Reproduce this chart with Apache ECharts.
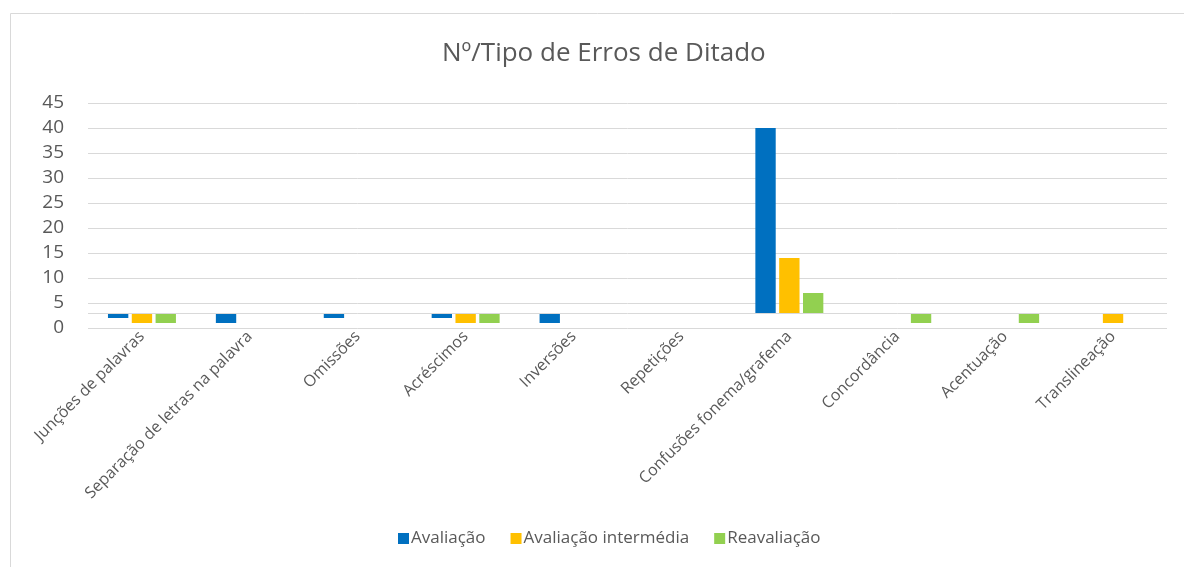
<!DOCTYPE html>
<html>
<head>
<meta charset="utf-8">
<script src="https://cdn.jsdelivr.net/npm/echarts@6/dist/echarts.min.js"></script>
<style>
html,body{margin:0;padding:0;background:#fff;}
#chart{width:1184px;height:567px;}
</style>
</head>
<body>
<div id="chart"></div>
<script>
const categories = ["Junções de palavras","Separação de letras na palavra","Omissões","Acréscimos","Inversões","Repetições","Confusões fonema/grafema","Concordância","Acentuação","Translineação"];
const seriesNames = ["Avaliação","Avaliação intermédia","Reavaliação"];
const avaliacao = [2, 1, 2, 2, 1, null, 40, null, null, null];
const avaliacaoIntermedia = [1, null, null, 1, null, null, 14, null, null, 1];
const reavaliacao = [1, null, null, 1, null, null, 7, 1, 1, null];
const colors = ["#0070C0", "#FFC000", "#92D050"];
const axisCross = 3;
const yTicks = {min: 0, max: 45, interval: 5};

const allValues = [avaliacao, avaliacaoIntermedia, reavaliacao];
const series = [];
allValues.forEach((vals, i) => {
  const stack = 's' + i;
  series.push({
    name: '_base' + i, type: 'bar', stack: stack, silent: true,
    itemStyle: {color: 'rgba(0,0,0,0)'},
    data: vals.map(v => v == null ? null : Math.min(v, axisCross)),
    barCategoryGap: '37%', barGap: '17%'
  });
  const s = {
    name: seriesNames[i], type: 'bar', stack: stack,
    itemStyle: {color: colors[i]},
    data: vals.map(v => v == null ? null : Math.abs(v - axisCross)),
    barCategoryGap: '37%', barGap: '17%'
  };
  if (i === 0) {
    s.markLine = {silent: true, symbol: 'none', label: {show: false},
      lineStyle: {color: '#d9d9d9', width: 1, type: 'solid'},
      data: [{yAxis: axisCross}]};
  }
  series.push(s);
});

const chart = echarts.init(document.getElementById('chart'));
chart.setOption({
  animation: false,
  textStyle: {fontFamily: 'Open Sans'},
  color: colors,
  title: {
    text: 'Nº/Tipo de Erros de Ditado', left: 437, top: 36,
    textStyle: {fontFamily: 'Open Sans', fontSize: 26, fontWeight: 'normal', color: '#595959'}
  },
  graphic: [{type: 'rect', shape: {x: 10.5, y: 13.5, width: 1200, height: 600},
    style: {fill: 'none', stroke: '#d9d9d9', lineWidth: 1}, silent: true, z: -1}],
  legend: {
    data: seriesNames, bottom: 15, left: 393, icon: 'rect',
    itemWidth: 11, itemHeight: 11, itemGap: 25,
    textStyle: {fontFamily: 'Open Sans', fontSize: 17, color: '#595959', padding: [0,0,0,-3]}
  },
  grid: {left: 88, right: 17, top: 103, bottom: 239, containLabel: false},
  xAxis: {
    type: 'category', data: categories,
    axisLine: {show: false}, axisTick: {show: false},
    axisLabel: {rotate: 45, interval: 0, fontSize: 16, color: '#595959', margin: 6, fontFamily: 'Open Sans'}
  },
  yAxis: {
    type: 'value', min: yTicks.min, max: yTicks.max, interval: yTicks.interval,
    axisLine: {show: false}, axisTick: {show: false},
    axisLabel: {fontSize: 19, color: '#595959', margin: 24, fontFamily: 'Open Sans'},
    splitLine: {lineStyle: {color: '#d9d9d9', width: 1}}
  },
  series: series
});
</script>
</body>
</html>
